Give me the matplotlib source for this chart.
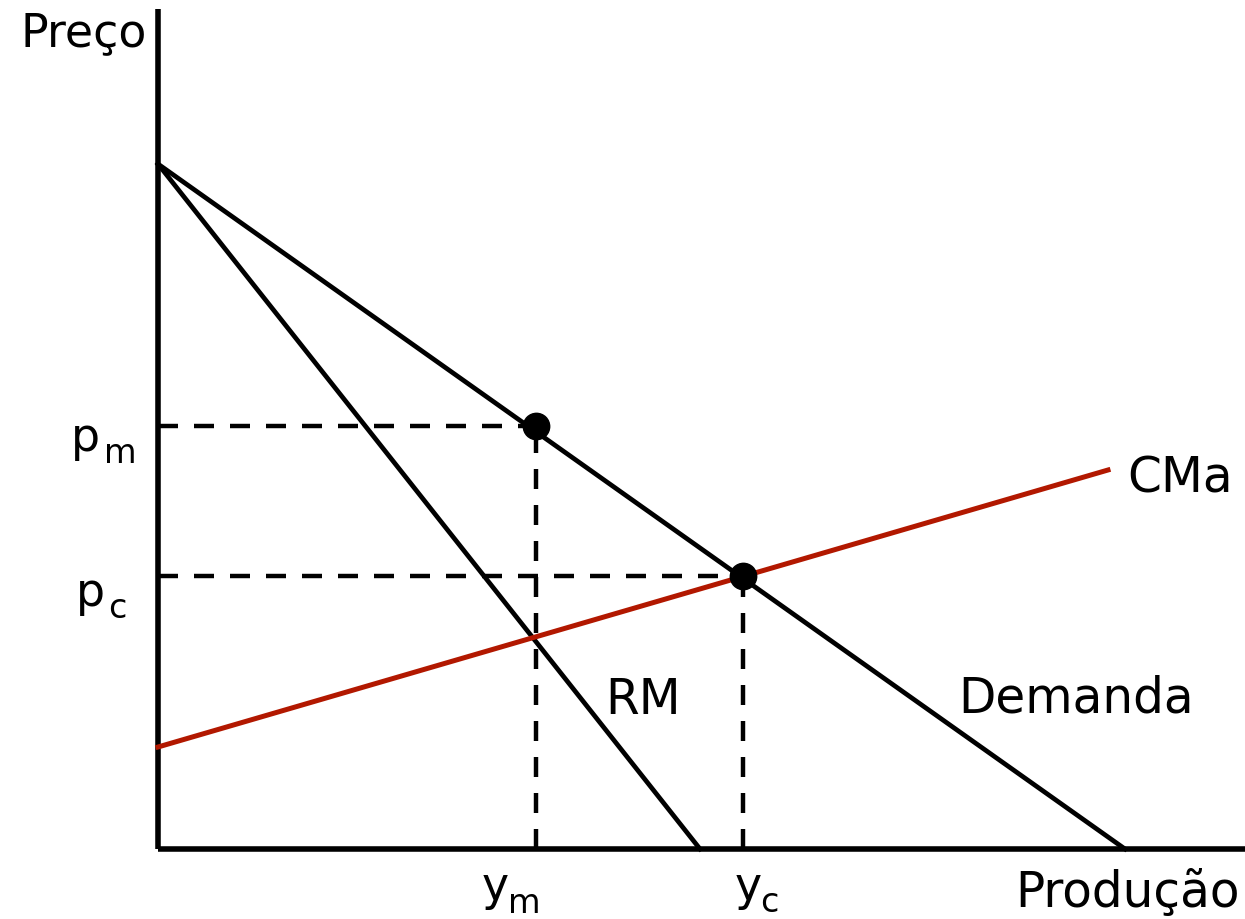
import matplotlib.pyplot as plt

plt.rcParams['font.family'] = ['DejaVu Sans']

# curvas (unidades arbitrárias: quantidade, preço)
demanda_q = [0, 967]
demanda_p = [685, 0]
rm_q = [0, 542]
rm_p = [685, 0]
cma_q = [0, 950]
cma_p = [102, 379]

# pontos de equilíbrio: monopólio e concorrência
ym, pm = 378, 423
yc, pc = 585, 273

preto = 'black'
vermelho = '#b21800'

fig = plt.figure(figsize=(12.45, 9.2), dpi=100)
ax = fig.add_axes([0, 0, 1, 1])
ax.set_xlim(-158, 1087)
ax.set_ylim(-70, 850)
ax.axis('off')

# eixos
ax.plot([0, 0], [0, 840], color=preto, lw=4, solid_capstyle='butt')
ax.plot([0, 1087], [0, 0], color=preto, lw=4, solid_capstyle='butt')

# linhas tracejadas
tr = dict(color=preto, lw=3.2, ls=(0, (4.5, 3.6)))
ax.plot([0, ym], [pm, pm], **tr)
ax.plot([ym, ym], [0, pm], **tr)
ax.plot([0, yc], [pc, pc], **tr)
ax.plot([yc, yc], [0, pc], **tr)

ax.plot(demanda_q, demanda_p, color=preto, lw=3.4)
ax.plot(rm_q, rm_p, color=preto, lw=3.4)
ax.plot(cma_q, cma_p, color=vermelho, lw=3.6)

ax.plot([ym, yc], [pm, pc], 'o', color=preto, ms=19, zorder=5)


def rotulo(x, y, base, sub, xs, ys):
    ax.text(x, y, base, fontsize=33, ha='left', va='baseline')
    ax.text(xs, ys, sub, fontsize=24, ha='left', va='baseline')


fs = 35
ax.text(-11, 804, 'Preço', fontsize=33, ha='right', va='baseline')
ax.text(1082, -57, 'Produção', fontsize=fs, ha='right', va='baseline')
rotulo(-87, 399, 'p', 'm', -54, 387)
rotulo(-82, 244, 'p', 'c', -50, 232)
rotulo(324, -50, 'y', 'm', 350, -63)
rotulo(577, -50, 'y', 'c', 602, -62)
ax.text(969, 357, 'CMa', fontsize=fs, ha='left', va='baseline')
ax.text(447, 136, 'RM', fontsize=fs, ha='left', va='baseline')
ax.text(800, 137, 'Demanda', fontsize=fs, ha='left', va='baseline')

fig.savefig('out.png', dpi=100)
